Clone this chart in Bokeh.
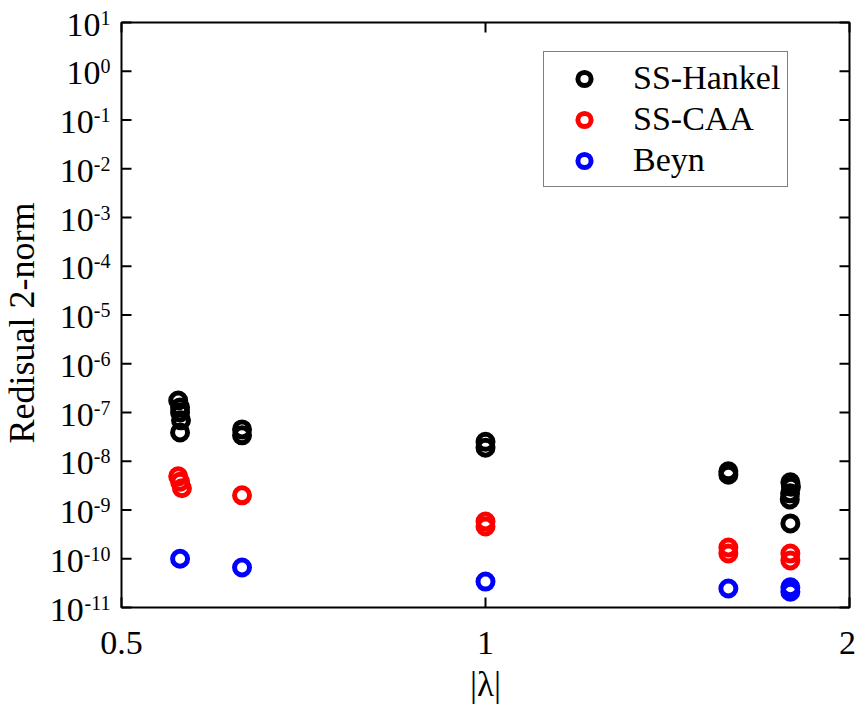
import math
from bokeh.plotting import figure
from bokeh.models import Legend, LegendItem
from bokeh.core.properties import value
from bokeh.embed import file_html
from bokeh.resources import INLINE

# |lambda| of each computed eigenvalue and its residual 2-norm, per method
hankel_x = [0.557, 0.559, 0.559, 0.560, 0.559, 0.629, 0.629, 1.0, 1.0,
            1.588, 1.588, 1.787, 1.789, 1.786, 1.785, 1.787]
hankel_y = [1.76e-7, 1.27e-7, 1.0e-7, 6.9e-8, 3.9e-8, 4.5e-8, 3.4e-8, 2.5e-8, 1.9e-8,
            6.2e-9, 5.3e-9, 3.7e-9, 3.0e-9, 2.2e-9, 1.64e-9, 5.3e-10]

caa_x = [0.557, 0.559, 0.561, 0.629, 1.0, 1.0, 1.588, 1.588, 1.787, 1.787]
caa_y = [4.9e-9, 3.8e-9, 2.8e-9, 2.0e-9, 5.8e-10, 4.6e-10, 1.7e-10, 1.28e-10, 1.28e-10, 9.2e-11]

beyn_x = [0.559, 0.629, 1.0, 1.588, 1.787, 1.787]
beyn_y = [1.0e-10, 6.6e-11, 3.4e-11, 2.45e-11, 2.6e-11, 2.1e-11]

x_ticks = [0.5, 1, 2]
x_tick_labels = ["0.5", "1", "2"]
y_exponents = list(range(-11, 2))
y_ticks = [10.0 ** e for e in y_exponents]

X_MIN, X_MAX = 0.5, 2
Y_MIN, Y_MAX = 1e-11, 10

W, H = 855, 707
# pixel box of the axes inside the canvas
BOX_L, BOX_R, BOX_T, BOX_B = 121, 849, 22, 607

FONT = "Liberation Serif"
BASE_PX = 34      # size of the "10" in tick labels
EXP_PX = 20       # size of the superscript exponent

# The plot frame fills the whole canvas so the tick labels and titles can sit
# around the axes box; ranges are widened so that the box spans X_MIN..X_MAX, Y_MIN..Y_MAX.
oct_px = (BOX_R - BOX_L) / math.log2(X_MAX / X_MIN)
dec_px = (BOX_B - BOX_T) / math.log10(Y_MAX / Y_MIN)
x_lo = X_MIN / 2 ** (BOX_L / oct_px)
x_hi = X_MAX * 2 ** ((W - BOX_R) / oct_px)
y_lo = Y_MIN / 10 ** ((H - BOX_B) / dec_px)
y_hi = Y_MAX * 10 ** (BOX_T / dec_px)

p = figure(width=W, height=H, x_axis_type="log", y_axis_type="log",
           x_axis_location=None, y_axis_location=None,
           x_range=(x_lo, x_hi), y_range=(y_lo, y_hi),
           output_backend="svg", toolbar_location=None,
           min_border=0)

p.grid.visible = False
p.outline_line_color = None
p.background_fill_color = "white"
p.border_fill_color = "white"

# axes box
p.quad(left=[X_MIN], right=[X_MAX], bottom=[Y_MIN], top=[Y_MAX],
       fill_color=None, line_color="black", line_width=2)

# inward tick marks on all four sides
tick = dict(length=10, length_units="screen", line_color="black", line_width=2)
p.ray(x=x_ticks, y=[Y_MIN] * len(x_ticks), angle=math.pi / 2, **tick)
p.ray(x=x_ticks, y=[Y_MAX] * len(x_ticks), angle=-math.pi / 2, **tick)
p.ray(x=[X_MIN] * len(y_ticks), y=y_ticks, angle=0, **tick)
p.ray(x=[X_MAX] * len(y_ticks), y=y_ticks, angle=math.pi, **tick)

txt = dict(text_font=value(FONT), text_color="black", text_baseline="middle")

# x tick labels
x_lab_dx = [0, 0, -2]
p.text(x=x_ticks, y=[Y_MIN] * len(x_ticks), text=x_tick_labels,
       x_offset=x_lab_dx, y_offset=35, text_align="center",
       text_font_size=f"{BASE_PX}px", **txt)

# y tick labels: "10" followed by a raised exponent, right-aligned to the box
exp_txt = [str(e) for e in y_exponents]
exp_w = [EXP_PX * (0.5 * sum(c.isdigit() for c in s) + 0.333 * s.count("-")) for s in exp_txt]
p.text(x=[X_MIN] * len(y_ticks), y=y_ticks, text=exp_txt,
       x_offset=-11, y_offset=-5, text_align="right",
       text_font_size=f"{EXP_PX}px", **txt)
p.text(x=[X_MIN] * len(y_ticks), y=y_ticks, text=["10"] * len(y_ticks),
       x_offset=[-11 - w for w in exp_w], y_offset=2, text_align="right",
       text_font_size=f"{BASE_PX}px", **txt)

# axis titles
p.text(x=[1], y=[Y_MIN], text=["|λ|"], y_offset=77, text_align="center",
       text_font_size="35px", **txt)
p.text(x=[X_MIN], y=[10.0 ** -5], text=["Redisual 2-norm"], x_offset=-100, y_offset=8,
       angle=math.pi / 2, text_align="center", text_font_size="36px", **txt)

style = dict(size=15, line_width=5, fill_color=None)
r_h = p.scatter(hankel_x, hankel_y, line_color="black", **style)
r_c = p.scatter(caa_x, caa_y, line_color="red", **style)
r_b = p.scatter(beyn_x, beyn_y, line_color="blue", **style)

legend = Legend(items=[LegendItem(label="SS-Hankel", renderers=[r_h]),
                       LegendItem(label="SS-CAA", renderers=[r_c]),
                       LegendItem(label="Beyn", renderers=[r_b])],
                location=(543, H - 187),
                label_text_font=FONT, label_text_font_size="34px",
                label_text_color="black",
                glyph_width=66, glyph_height=33, label_height=33,
                label_standoff=16, spacing=3, padding=7, margin=0,
                border_line_color="black", border_line_width=1,
                background_fill_color="white", background_fill_alpha=1)
p.add_layout(legend)

open("out.html", "w").write(file_html(p, INLINE))
